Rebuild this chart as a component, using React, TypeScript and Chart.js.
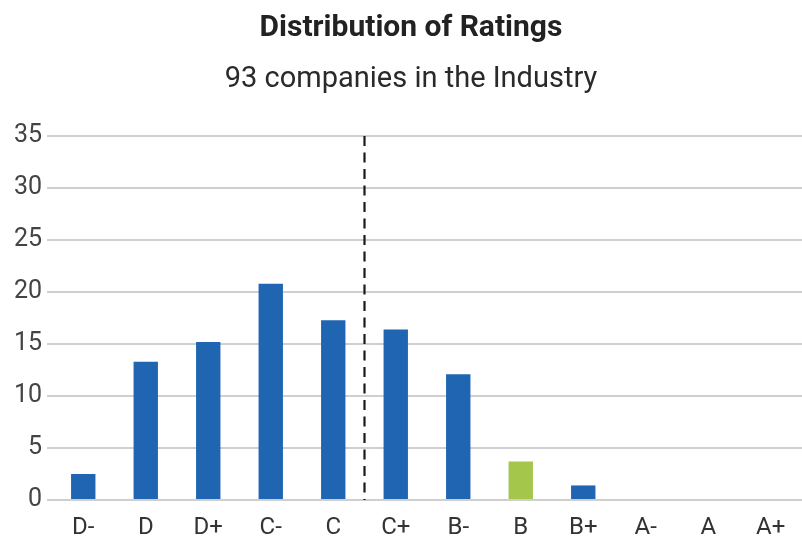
import React, { useEffect, useRef } from "react";
import { Chart, registerables } from "chart.js";

Chart.register(...registerables);

const categories = ["D-", "D", "D+", "C-", "C", "C+", "B-", "B", "B+", "A-", "A", "A+"];
const values = [2.5, 13.3, 15.2, 20.8, 17.3, 16.4, 12.1, 3.7, 1.4, 0, 0, 0];
const highlightCategory = "B";
const dividerPosition = 4.5; // between C and C+
const yTicks = [0, 5, 10, 15, 20, 25, 30, 35];
const titleText = "Distribution of Ratings";
const subtitleText = "93 companies in the Industry";

const BLUE = "#1f65b1";
const GREEN = "#a3c64b";

const dividerPlugin = {
  id: "divider",
  afterDatasetsDraw(chart: any) {
    const { ctx, chartArea, scales } = chart;
    const x = scales.x.getPixelForValue(dividerPosition);
    ctx.save();
    ctx.strokeStyle = "#1a1a1a";
    ctx.lineWidth = 2.2;
    ctx.setLineDash([10, 6.5]);
    ctx.beginPath();
    ctx.moveTo(x, chartArea.top);
    ctx.lineTo(x, chartArea.bottom);
    ctx.stroke();
    ctx.restore();
  },
};

// shift the centre of the title boxes slightly to the right, as in the reference
const titleShiftPlugin = {
  id: "titleShift",
  afterLayout(chart: any) {
    chart.boxes.forEach((b: any) => {
      if (b.position === "top" && b.fullSize && !b.axis) {
        b.left = 20;
      }
    });
  },
};

export default function App() {
  const ref = useRef<HTMLCanvasElement>(null);
  useEffect(() => {
    document.body.style.margin = "0";
    const chart = new Chart(ref.current!, {
      type: "bar",
      data: {
        labels: categories,
        datasets: [
          {
            data: values,
            backgroundColor: categories.map((c) => (c === highlightCategory ? GREEN : BLUE)),
            barPercentage: 0.39,
            categoryPercentage: 1,
          },
        ],
      },
      options: {
        animation: false,
        responsive: false,
        layout: { padding: { left: 0, right: 0, top: 0, bottom: 0 } },
        plugins: {
          legend: { display: false },
          tooltip: { enabled: false },
          title: {
            display: true,
            text: titleText,
            color: "#222",
            font: { family: "Roboto", size: 30, weight: "bold" },
            padding: { top: 10.5, bottom: 15.8 },
          },
          subtitle: {
            display: true,
            text: subtitleText,
            color: "#2a2a2a",
            font: { family: "Roboto", size: 29, weight: "normal" },
            padding: { top: 0, bottom: 39 },
          },
        },
        scales: {
          x: {
            afterFit(scale: any) {
              scale.height = 49;
            },
            grid: { display: false, drawTicks: false },
            border: { display: false },
            ticks: {
              color: "#333",
              font: { family: "Roboto", size: 24 },
              padding: 13.5,
              maxRotation: 0,
              autoSkip: false,
            },
          },
          y: {
            min: 0,
            max: 35,
            afterFit(scale: any) {
              scale.width = 52;
            },
            afterBuildTicks(scale: any) {
              scale.ticks = yTicks.map((v) => ({ value: v }));
            },
            grid: { color: "#cfcfcf", lineWidth: 2, tickLength: 5 },
            border: { display: false },
            ticks: {
              color: "#444",
              font: { family: "Roboto", size: 25 },
              padding: 5,
            },
          },
        },
      },
      plugins: [dividerPlugin, titleShiftPlugin],
    });
    return () => chart.destroy();
  }, []);
  return (
    <div style={{ width: 802, height: 549 }}>
      <canvas ref={ref} width={802} height={549} style={{ display: "block" }} />
    </div>
  );
}
